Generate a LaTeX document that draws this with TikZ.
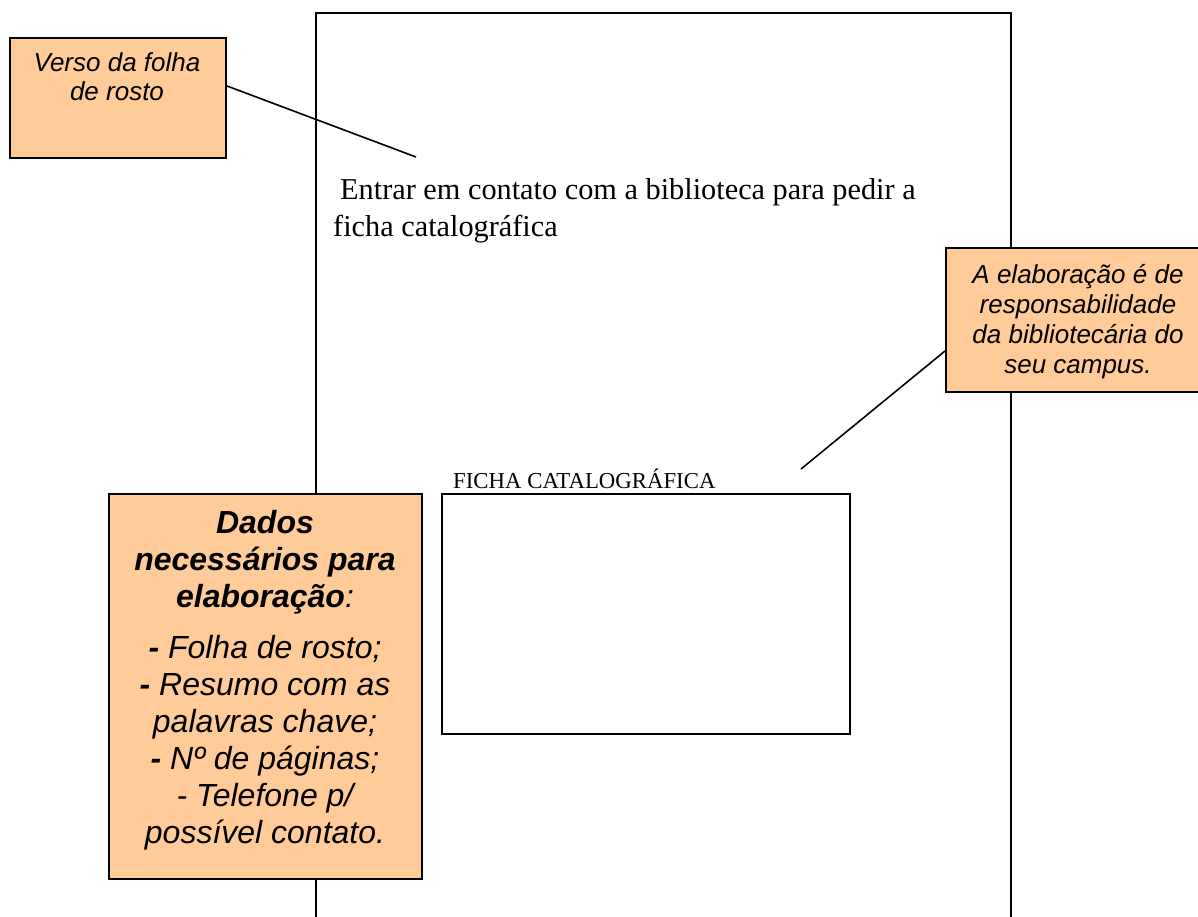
\documentclass[tikz,border=0pt]{standalone}
\usepackage{fontspec}
\setmainfont{Liberation Serif}
\newfontfamily\arialf{Liberation Sans}
\definecolor{peach}{HTML}{FFCC99}
\begin{document}
\begin{tikzpicture}[x=1pt,y=-1pt,
  callout/.style={draw=black, line width=2pt, fill=peach, inner sep=0pt, anchor=north west},
  plainbox/.style={draw=black, line width=2pt, inner sep=0pt, anchor=north west},
  txt/.style={inner sep=0pt, anchor=base},
  conn/.style={draw=black, line width=1.6pt}]
\useasboundingbox (0,0) rectangle (1198,917);
% page outline
\draw[line width=2pt] (316,920) -- (316,13) -- (1011,13) -- (1011,920);
% callout boxes
\node[callout, minimum width=216pt, minimum height=120pt] (b1) at (9,37) {};
\node[callout, minimum width=256pt, minimum height=144pt] (b2) at (945,247) {};
\node[callout, minimum width=313pt, minimum height=385pt] (b3) at (108,493) {};
% ficha box
\node[plainbox, minimum width=408pt, minimum height=240pt] (fb) at (441,493) {};
% texts
\node[txt] (t1) at (117,72) {\parbox[t]{210pt}{\centering\arialf\itshape\fontsize{26}{29}\selectfont Verso da folha\\de rosto}};
\node[txt] (t2) at (1078,283) {\parbox[t]{250pt}{\centering\arialf\itshape\fontsize{26}{30}\selectfont A elaboração é de\\responsabilidade\\da bibliotecária do\\seu campus.}};
\node[txt] (t3) at (265,533) {\parbox[t]{310pt}{\centering\arialf\itshape\fontsize{32}{37}\selectfont \textbf{Dados}\\\textbf{necessários para}\\\textbf{elaboração}:\\[14pt]\textbf{-} Folha de rosto;\\\textbf{-} Resumo com as\\palavras chave;\\\textbf{-} Nº de páginas;\\- Telefone p/\\possível contato.}};
\node[inner sep=0pt, anchor=base west] (main) at (333,200) {\parbox[t]{700pt}{\raggedright\fontsize{30.3}{37}\selectfont\hspace*{7pt}Entrar em contato com a biblioteca para pedir a\\ficha catalográfica}};
\node[inner sep=0pt, anchor=base west] (fl) at (453,488) {\fontsize{22.8}{26}\selectfont FICHA CATALOGRÁFICA};
% connectors
\coordinate (e1) at (416,157);
\coordinate (e2) at (801,469);
\draw[conn] ([yshift=12pt]b1.east) -- (e1);
\draw[conn] ([yshift=-31pt]b2.west) -- (e2);
\end{tikzpicture}
\end{document}
